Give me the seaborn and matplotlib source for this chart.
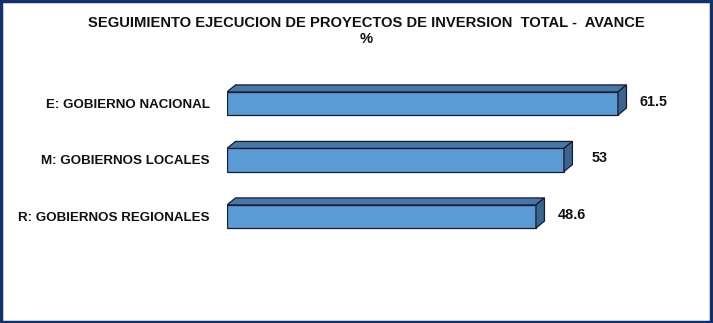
import matplotlib
matplotlib.use("Agg")
import matplotlib.pyplot as plt
import seaborn as sns
import pandas as pd
from matplotlib.patches import Polygon, Rectangle

categories = ["E: GOBIERNO NACIONAL", "M: GOBIERNOS LOCALES", "R: GOBIERNOS REGIONALES"]
values = [61.5, 53, 48.6]
value_labels = ["61.5", "53", "48.6"]
title = "SEGUIMIENTO EJECUCION DE PROYECTOS DE INVERSION  TOTAL -  AVANCE\n%"

sns.set_theme(style="white")
plt.rcParams['font.family'] = ['Liberation Sans', 'DejaVu Sans']

df = pd.DataFrame({"cat": categories, "val": values})

fig = plt.figure(figsize=(7.13, 3.23), dpi=100)
W, H = 713, 323
ax = fig.add_axes([227 / W, 1 - 244.75 / H, 445 / W, 169.5 / H])

front = "#5B9BD5"
top_c = "#4677A8"
side_c = "#3A6590"
edge = "#1a1a2e"

sns.barplot(data=df, x="val", y="cat", orient="h", color=front, width=0.41,
            edgecolor=edge, linewidth=0.9, ax=ax, saturation=1)
ax.set_xlim(0, 70)
ax.set_ylim(2.5, -0.5)

# 3D depth: pixels -> data units
px_x = 70 / 445
px_y = 3 / 169.5
dx = 8.5 * px_x
dy = 7 * px_y

for p, lab in zip(ax.patches, value_labels):
    x0 = p.get_x()
    w = p.get_width()
    y0 = p.get_y()
    h = p.get_height()
    ytop = y0  # inverted axis: smaller y is top
    ybot = y0 + h
    x1 = x0 + w
    topface = Polygon([[x0, ytop], [x0 + dx, ytop - dy], [x1 + dx, ytop - dy], [x1, ytop]],
                      closed=True, facecolor=top_c, edgecolor=edge, linewidth=0.9, zorder=1)
    sideface = Polygon([[x1, ytop], [x1 + dx, ytop - dy], [x1 + dx, ybot - dy], [x1, ybot]],
                       closed=True, facecolor=side_c, edgecolor=edge, linewidth=0.9, zorder=1)
    ax.add_patch(topface)
    ax.add_patch(sideface)
    ax.text(x1 + 36 * px_x, y0 + h / 2 - 1.5 * px_y, lab, ha="center", va="center",
            fontsize=10.4, fontweight="bold", color="#111111")

ax.set_xlabel("")
ax.set_ylabel("")
ax.set_xticks([])
for s in ax.spines.values():
    s.set_visible(False)
ax.tick_params(axis="y", length=0, pad=12.5)
for t in ax.get_yticklabels():
    t.set_fontweight("bold")
    t.set_fontsize(9.6)
    t.set_color("#111111")

fig.text(366.5 / W, 1 - 31 / H, title, ha="center", va="center", fontsize=10.6,
         fontweight="bold", color="#111111", linespacing=1.12)

border = Rectangle((0.002, 0.003), 0.995, 0.994, transform=fig.transFigure,
                   fill=False, edgecolor="#12306B", linewidth=2.5)
fig.patches.append(border)

fig.savefig("out.png", dpi=100)
